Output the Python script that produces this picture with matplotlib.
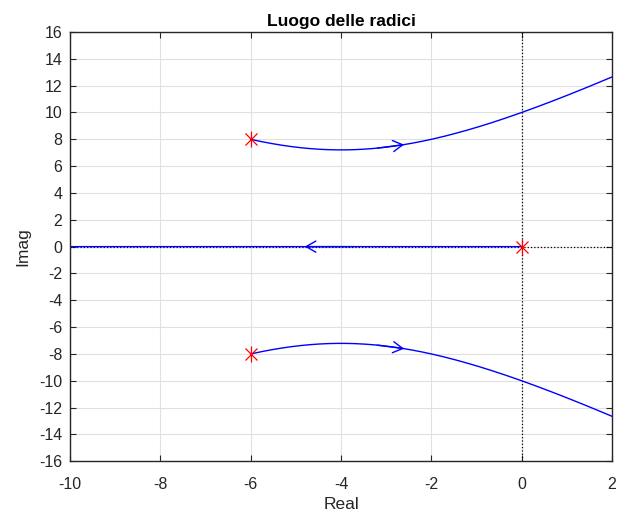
import numpy as np
import matplotlib
matplotlib.use("Agg")
import matplotlib.pyplot as plt

# Open-loop poles: G(s) = K / (s (s^2 + 12 s + 100))
poles = [0.0, complex(-6, 8), complex(-6, -8)]
xticks = list(range(-10, 3, 2))
yticks = list(range(-16, 17, 2))
title = "Luogo delle radici"
xlabel = "Real"
ylabel = "Imag"

plt.rcParams['font.family'] = ['Liberation Sans', 'DejaVu Sans']
plt.rcParams['axes.unicode_minus'] = False

den = np.real(np.poly(poles))
gains = np.concatenate([[0.0], np.logspace(-2, 4.5, 3000)])

prev = np.array(poles, dtype=complex)
traj = [prev]
for k in gains[1:]:
    p = den.copy()
    p[-1] += k
    r = np.roots(p)
    order = []
    used = set()
    for q in prev:
        d = [abs(q - ri) if i not in used else np.inf for i, ri in enumerate(r)]
        i = int(np.argmin(d))
        used.add(i)
        order.append(r[i])
    prev = np.array(order)
    traj.append(prev)
traj = np.array(traj)

fig = plt.figure(figsize=(6.18, 5.12), dpi=100)
ax = fig.add_axes([0.1133, 0.0991, 0.8770, 0.8384])

ax.axvline(0, color='black', linestyle=':', linewidth=0.9, zorder=1)
ax.axhline(0, color='black', linestyle=':', linewidth=0.9, zorder=1)

for j in range(traj.shape[1]):
    br = traj[:, j]
    ax.plot(br.real, br.imag, color='blue', linewidth=1.0, zorder=2)

def add_arrow(br, xtarget):
    i = int(np.argmin(np.abs(br.real - xtarget)))
    i0 = max(i - 40, 0)
    ax.annotate('', xy=(br.real[i], br.imag[i]), xytext=(br.real[i0], br.imag[i0]),
                arrowprops=dict(arrowstyle='->,head_length=0.7,head_width=0.4',
                                color='blue', lw=1.0, shrinkA=0, shrinkB=0), zorder=3)

for j in range(traj.shape[1]):
    br = traj[:, j]
    if abs(br[0].imag) < 1e-9:
        add_arrow(br, -4.8)
    else:
        add_arrow(br, -2.6)

pr = np.array(poles, dtype=complex)
ax.plot(pr.real, pr.imag, linestyle='none', marker='x', markersize=9,
        markeredgecolor='red', markeredgewidth=0.9, zorder=4)
ax.plot(pr.real, pr.imag, linestyle='none', marker='|', markersize=12,
        markeredgecolor='red', markeredgewidth=0.9, zorder=4)

ax.set_xlim(-10, 2)
ax.set_ylim(-16, 16)
ax.set_xticks(xticks)
ax.set_yticks(yticks)
ax.grid(True, color='#e0e0e0', linewidth=0.8)
ax.set_axisbelow(True)
ax.tick_params(direction='in', length=4, labelsize=11.5, colors='#262626', top=True, right=True,
               labeltop=False, labelright=False)
ax.tick_params(axis='x', pad=11)
ax.tick_params(axis='y', pad=5.5)
for s in ax.spines.values():
    s.set_linewidth(1.0)
    s.set_color('#262626')
ax.set_title(title, fontsize=12.5, fontweight='bold', pad=4)
ax.set_xlabel(xlabel, fontsize=12.5, color='#262626', labelpad=4)
ax.set_ylabel(ylabel, fontsize=12.5, color='#262626', labelpad=6)

fig.savefig('out.png', dpi=100)
